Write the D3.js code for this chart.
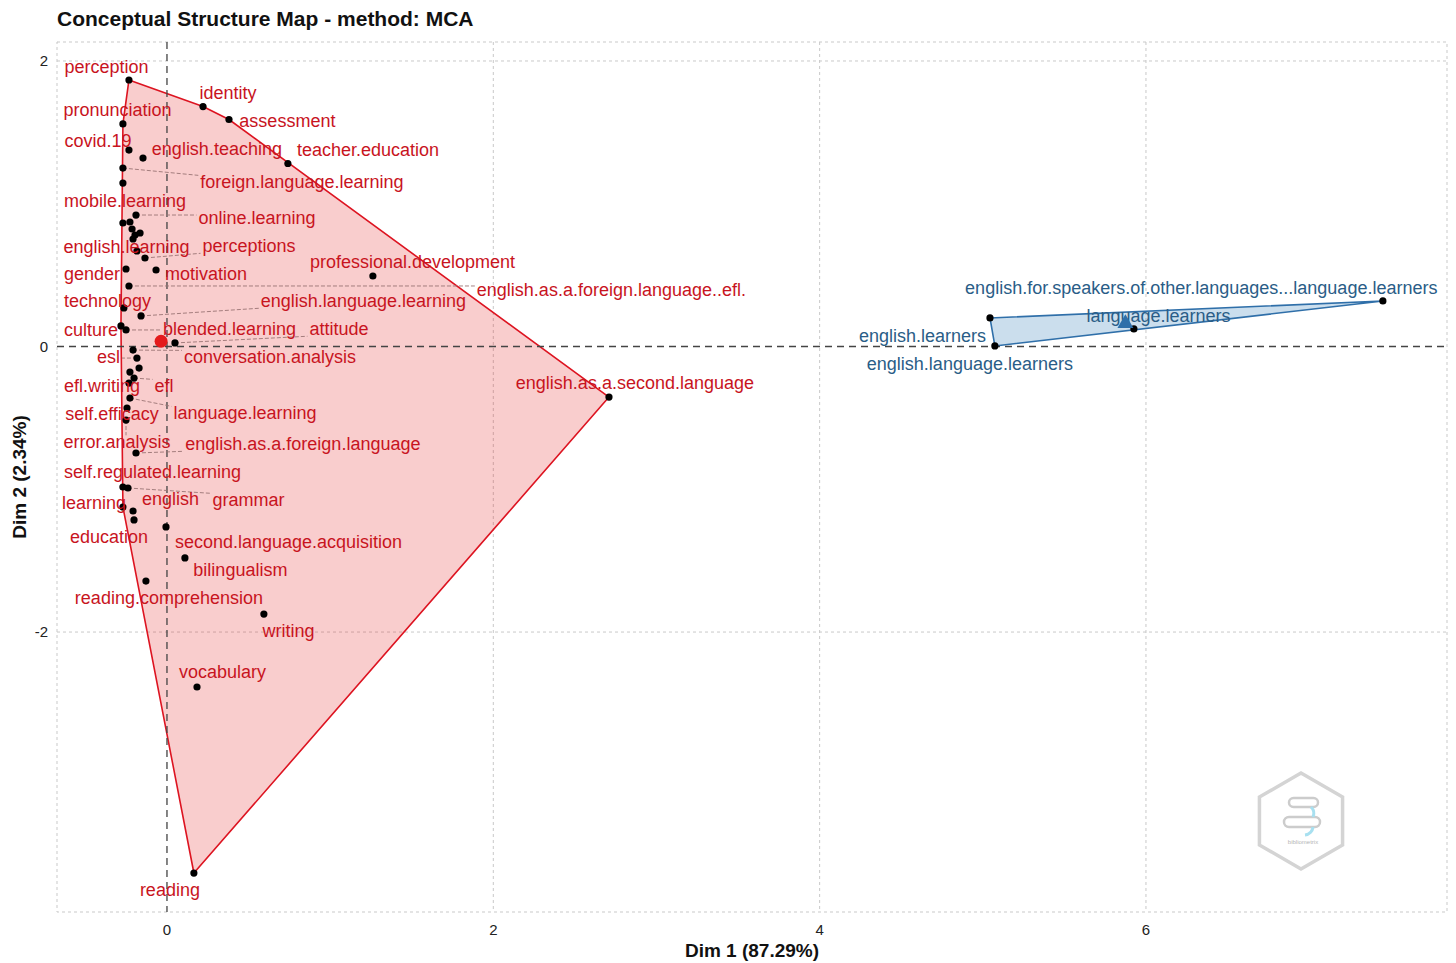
<!DOCTYPE html>
<html>
<head>
<meta charset="utf-8">
<script src="https://cdn.jsdelivr.net/npm/d3@7"></script>
<style>
  body { margin: 0; background: #fff; }
  text { font-family: "Liberation Sans", Arial, sans-serif; }
</style>
</head>
<body>
<script>
// Conceptual structure map (MCA) - word coordinates
const words = [
  "perception", "identity", "assessment", "teacher.education", "pronunciation",
  "covid.19", "english.teaching", "foreign.language.learning", "mobile.learning", "online.learning",
  null, null, null, null, null, null,
  "english.learning", "perceptions", "gender", "motivation", "english.as.a.foreign.language..efl.",
  "technology", "english.language.learning", "culture", "blended.learning", "attitude",
  "conversation.analysis", "esl", null, null, "efl", "efl.writing", "language.learning",
  "self.efficacy", "error.analysis", "english.as.a.foreign.language", "self.regulated.learning",
  "grammar", "learning", "english", "education", "second.language.acquisition", "bilingualism",
  "reading.comprehension", "writing", "vocabulary", "reading", "professional.development",
  "english.as.a.second.language",
  "english.learners", "english.language.learners", "language.learners",
  "english.for.speakers.of.other.languages...language.learners"
];
const dim1 = [
  -0.233, 0.221, 0.380, 0.741, -0.270,
  -0.233, -0.147, -0.270, -0.270, -0.190,
  -0.270, -0.227, -0.214, -0.165, -0.196, -0.208,
  -0.184, -0.135, -0.251, -0.067, -0.233,
  -0.264, -0.159, -0.282, -0.251, 0.049,
  -0.208, -0.184, -0.227, -0.171, -0.202, -0.233, -0.227,
  -0.245, -0.251, -0.190, -0.270,
  -0.239, -0.270, -0.208, -0.202, -0.006, 0.110,
  -0.129, 0.594, 0.184, 0.165, 1.262,
  2.709,
  5.044, 5.074, 5.926,
  7.452
];
const dim2 = [
  1.867, 1.681, 1.590, 1.282, 1.559,
  1.376, 1.320, 1.250, 1.145, 0.921,
  0.865, 0.872, 0.823, 0.795, 0.781, 0.753,
  0.669, 0.620, 0.543, 0.536, 0.424,
  0.270, 0.214, 0.144, 0.116, 0.025,
  -0.025, -0.081, -0.179, -0.151, -0.221, -0.256, -0.361,
  -0.431, -0.515, -0.746, -0.984,
  -0.991, -1.124, -1.152, -1.215, -1.264, -1.481,
  -1.643, -1.874, -2.385, -3.688, 0.494,
  -0.354,
  0.200, 0.004, 0.123,
  0.319
];
const cluster = [
  1, 1, 1, 1, 1, 1, 1, 1, 1, 1,
  1, 1, 1, 1, 1, 1,
  1, 1, 1, 1, 1, 1, 1, 1, 1, 1,
  1, 1, 1, 1, 1, 1, 1, 1, 1, 1, 1,
  1, 1, 1, 1, 1, 1, 1, 1, 1, 1, 1,
  1,
  2, 2, 2,
  2
];
// repelled label centres, in the same Dim 1 / Dim 2 units
const labelDim1 = [
  -0.371, 0.374, 0.738, 1.232, -0.303,
  -0.423, 0.306, 0.827, -0.257, 0.552,
  null, null, null, null, null, null,
  -0.248, 0.503, -0.460, 0.239, 2.724,
  -0.365, 1.204, -0.466, 0.383, 1.054,
  0.631, -0.359, null, null, -0.018, -0.398, 0.478,
  -0.337, -0.306, 0.833, -0.089,
  0.499, -0.447, 0.021, -0.355, 0.745, 0.450,
  0.012, 0.745, 0.340, 0.018, 1.505,
  2.868,
  4.630, 4.921, 6.077,
  6.339
];
const labelDim2 = [
  1.958, 1.776, 1.580, 1.377, 1.657,
  1.440, 1.384, 1.152, 1.019, 0.900,
  null, null, null, null, null, null,
  0.697, 0.704, 0.508, 0.508, 0.396,
  0.319, 0.319, 0.116, 0.123, 0.123,
  -0.074, -0.074, null, null, -0.277, -0.277, -0.466,
  -0.473, -0.669, -0.683, -0.879,
  -1.075, -1.096, -1.068, -1.334, -1.369, -1.565,
  -1.762, -1.993, -2.281, -3.808, 0.592,
  -0.256,
  0.074, -0.123, 0.214,
  0.410
];
const xTicks = [0, 2, 4, 6];
const yTicks = [-2, 0, 2];
const xDomain = [-0.674, 7.845];
const yDomain = [-3.961, 2.133];

const width = 1456;
const height = 963;
const margin = { top: 42, right: 9, bottom: 51, left: 57 };

const clusterColor = { 1: "#dd1421", 2: "#2f6fa9" };
const clusterFill = { 1: "rgba(228,26,28,0.22)", 2: "rgba(55,126,184,0.26)" };
const clusterText = { 1: "#c8141e", 2: "#2a5d87" };

const svg = d3.select("body")
  .append("svg")
  .attr("width", width)
  .attr("height", height);

const x = d3.scaleLinear().domain(xDomain).range([margin.left, width - margin.right]);
const y = d3.scaleLinear().domain(yDomain).range([height - margin.bottom, margin.top]);

const pts = words.map((w, i) => ({
  word: w, cx: x(dim1[i]), cy: y(dim2[i]), cl: cluster[i],
  lx: labelDim1[i] == null ? null : x(labelDim1[i]),
  ly: labelDim2[i] == null ? null : y(labelDim2[i])
}));

// grid
const grid = svg.append("g")
  .attr("stroke", "#c9c9c9")
  .attr("stroke-width", 1)
  .attr("stroke-dasharray", "3,3");
grid.selectAll(".gx").data(xTicks.filter(d => d !== 0)).enter().append("line")
  .attr("x1", d => x(d)).attr("x2", d => x(d))
  .attr("y1", margin.top).attr("y2", height - margin.bottom);
grid.selectAll(".gy").data(yTicks.filter(d => d !== 0)).enter().append("line")
  .attr("x1", margin.left).attr("x2", width - margin.right)
  .attr("y1", d => y(d)).attr("y2", d => y(d));
grid.append("rect")
  .attr("x", margin.left).attr("y", margin.top)
  .attr("width", width - margin.left - margin.right)
  .attr("height", height - margin.top - margin.bottom)
  .attr("fill", "none");

// cluster hulls
[1, 2].forEach(c => {
  const hull = d3.polygonHull(pts.filter(p => p.cl === c).map(p => [p.cx, p.cy]));
  svg.append("path")
    .attr("d", "M" + hull.join("L") + "Z")
    .attr("fill", clusterFill[c])
    .attr("stroke", clusterColor[c])
    .attr("stroke-width", 1.6)
    .attr("stroke-linejoin", "round");
});

// reference lines at 0
svg.append("line")
  .attr("x1", x(0)).attr("x2", x(0))
  .attr("y1", margin.top).attr("y2", height - margin.bottom)
  .attr("stroke", "#444").attr("stroke-width", 1.3).attr("stroke-dasharray", "7,5");
svg.append("line")
  .attr("x1", margin.left).attr("x2", width - margin.right)
  .attr("y1", y(0)).attr("y2", y(0))
  .attr("stroke", "#444").attr("stroke-width", 1.3).attr("stroke-dasharray", "7,5");

const leaderG = svg.append("g");
const pointG = svg.append("g");
const labelG = svg.append("g");

// points
pointG.selectAll("circle")
  .data(pts)
  .enter()
  .append("circle")
  .attr("cx", d => d.cx)
  .attr("cy", d => d.cy)
  .attr("r", 3.6)
  .attr("fill", "#000");

// labels
const labelled = pts.filter(p => p.word);
labelG.selectAll("text")
  .data(labelled)
  .enter()
  .append("text")
  .attr("x", d => d.lx)
  .attr("y", d => d.ly)
  .attr("dy", "0.35em")
  .attr("text-anchor", "middle")
  .attr("font-size", 18)
  .attr("fill", d => clusterText[d.cl])
  .text(d => d.word)
  .each(function (d) { d.box = this.getBBox(); });

// leader segments from point to nearest edge of its label
labelled.forEach(d => {
  const b = d.box, pad = 2;
  const nx = Math.max(b.x - pad, Math.min(d.cx, b.x + b.width + pad));
  const ny = Math.max(b.y + 3, Math.min(d.cy, b.y + b.height - 3));
  const dist = Math.hypot(nx - d.cx, ny - d.cy);
  if (dist > 14) {
    leaderG.append("line")
      .attr("x1", d.cx).attr("y1", d.cy)
      .attr("x2", nx).attr("y2", ny)
      .attr("stroke", "#9a7474")
      .attr("stroke-width", 0.9)
      .attr("stroke-dasharray", "4,2");
  }
});

// cluster centroids
const red = pts.filter(p => p.cl === 1);
const blue = pts.filter(p => p.cl === 2);
svg.append("circle")
  .attr("cx", d3.mean(red, p => p.cx))
  .attr("cy", d3.mean(red, p => p.cy))
  .attr("r", 6.5)
  .attr("fill", "#e41a1c");
svg.append("path")
  .attr("d", d3.symbol().type(d3.symbolTriangle).size(110)())
  .attr("transform", `translate(${d3.mean(blue, p => p.cx)},${d3.mean(blue, p => p.cy)})`)
  .attr("fill", clusterColor[2]);

// axes tick labels
svg.selectAll(".xt").data(xTicks).enter().append("text")
  .attr("x", d => x(d)).attr("y", height - margin.bottom + 23)
  .attr("text-anchor", "middle").attr("font-size", 15).attr("fill", "#222")
  .text(d => d);
svg.selectAll(".yt").data(yTicks).enter().append("text")
  .attr("x", margin.left - 9).attr("y", d => y(d)).attr("dy", "0.35em")
  .attr("text-anchor", "end").attr("font-size", 15).attr("fill", "#222")
  .text(d => d);

// titles
svg.append("text")
  .attr("x", margin.left).attr("y", 26)
  .attr("font-size", 21).attr("font-weight", "bold").attr("fill", "#111")
  .text("Conceptual Structure Map - method: MCA");
svg.append("text")
  .attr("x", (margin.left + width - margin.right) / 2).attr("y", 957)
  .attr("text-anchor", "middle").attr("font-size", 19).attr("font-weight", "bold").attr("fill", "#111")
  .text("Dim 1 (87.29%)");
svg.append("text")
  .attr("transform", `translate(26,${(margin.top + height - margin.bottom) / 2}) rotate(-90)`)
  .attr("text-anchor", "middle").attr("font-size", 19).attr("font-weight", "bold").attr("fill", "#111")
  .text("Dim 2 (2.34%)");

// faint bibliometrix logo
const logo = svg.append("g").attr("transform", "translate(1301,821)");
const hex = d3.range(6).map(i => {
  const a = Math.PI / 3 * i - Math.PI / 2;
  return [48 * Math.cos(a), 48 * Math.sin(a)];
});
logo.append("path")
  .attr("d", "M" + hex.join("L") + "Z")
  .attr("fill", "none").attr("stroke", "#d4d4d4").attr("stroke-width", 3.5);
logo.append("rect")
  .attr("x", -12).attr("y", -23).attr("width", 29).attr("height", 9).attr("rx", 4.5)
  .attr("fill", "none").attr("stroke", "#cccccc").attr("stroke-width", 2.5);
logo.append("rect")
  .attr("x", -17).attr("y", -4).attr("width", 36).attr("height", 10).attr("rx", 5)
  .attr("fill", "none").attr("stroke", "#cccccc").attr("stroke-width", 2.5);
logo.append("path")
  .attr("d", "M10,-14 A9,9 0 0 1 12,-4 M12,6 A9,9 0 0 1 4,14")
  .attr("fill", "none").attr("stroke", "#a8e0f0").attr("stroke-width", 3);
logo.append("text")
  .attr("x", 2).attr("y", 23).attr("text-anchor", "middle")
  .attr("font-size", 6).attr("fill", "#b5b5b5")
  .text("bibliometrix");
</script>
</body>
</html>
